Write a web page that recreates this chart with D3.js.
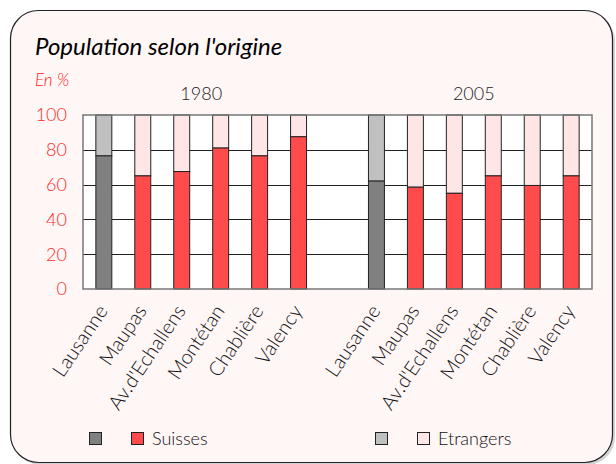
<!DOCTYPE html>
<html>
<head>
<meta charset="utf-8">
<script src="https://cdn.jsdelivr.net/npm/d3@7"></script>
<style>
  body { margin: 0; background: #fff; }
  text { font-family: Lato, "Open Sans", sans-serif; }
</style>
</head>
<body>
<script>
// data
let years = ["1980", "2005"];
let places = ["Lausanne", "Maupas", "Av.d'Echallens", "Montétan", "Chablière", "Valency"];
let suisses1980 = [76.5, 65, 67.5, 81, 76.5, 87.5];
let suisses2005 = [62, 58.5, 55, 65, 59.5, 65];
let yTicks = [0, 20, 40, 60, 80, 100];

// 13 slots: 6 places, an empty one, 6 places
let slots = [];
places.forEach((p, i) => slots.push({key: "a" + i, label: p, year: 0, suisses: suisses1980[i]}));
slots.push({key: "gap", label: "", year: -1, suisses: null});
places.forEach((p, i) => slots.push({key: "b" + i, label: p, year: 1, suisses: suisses2005[i]}));
let bars = slots.filter(d => d.suisses !== null);

let W = 616, H = 464;
let margin = {top: 115, right: 24, bottom: 175, left: 83},
    width = 592 - margin.left,
    height = 289 - margin.top;

let svg = d3.select("body").append("svg")
    .attr("width", W)
    .attr("height", H);

// panel with shadow
svg.append("rect")
    .attr("x", 13).attr("y", 13)
    .attr("width", 602).attr("height", 452)
    .attr("rx", 28)
    .attr("fill", "#d4d4d4");
svg.append("rect")
    .attr("x", 10.5).attr("y", 10.5)
    .attr("width", 602).attr("height", 452)
    .attr("rx", 28)
    .attr("fill", "#fff6f6")
    .attr("stroke", "#222")
    .attr("stroke-width", 1.2);

svg.append("text")
    .attr("x", 35).attr("y", 55)
    .style("font-size", "24px")
    .style("font-style", "italic")
    .attr("fill", "#000")
    .text("Population selon l'origine");

svg.append("text")
    .attr("x", 35).attr("y", 86)
    .style("font-size", "17px")
    .style("font-style", "italic")
    .style("font-weight", 300)
    .attr("fill", "#ff2020")
    .text("En %");

let x = d3.scaleBand()
    .domain(slots.map(d => d.key))
    .range([0, width])
    .paddingInner(0.59)
    .paddingOuter(0.33);

let y = d3.scaleLinear().domain([0, 100]).range([height, 0]);

let g = svg.append("g")
    .attr("transform", "translate(" + margin.left + "," + margin.top + ")");

// year headers
years.forEach(function (yr, k) {
    let first = x(slots.filter(d => d.year === k)[0].key);
    let last = x(slots.filter(d => d.year === k).slice(-1)[0].key) + x.bandwidth();
    g.append("text")
        .attr("x", (first + last) / 2)
        .attr("y", -15)
        .attr("text-anchor", "middle")
        .style("font-size", "18px")
        .style("font-weight", 300)
        .attr("fill", "#222")
        .text(yr);
});

// plot background
g.append("rect")
    .attr("width", width)
    .attr("height", height)
    .attr("fill", "#fff");

// grid lines
g.selectAll(".grid")
    .data(yTicks.filter(t => t > 0 && t < 100))
    .enter().append("line")
    .attr("x1", 0).attr("x2", width)
    .attr("y1", d => Math.round(y(d)) + 0.5)
    .attr("y2", d => Math.round(y(d)) + 0.5)
    .attr("stroke", "#222");

// y axis labels
g.selectAll(".ylab")
    .data(yTicks)
    .enter().append("text")
    .attr("x", -16)
    .attr("y", d => y(d))
    .attr("dy", "0.35em")
    .attr("text-anchor", "end")
    .style("font-size", "18px")
    .style("font-weight", 300)
    .attr("fill", "#ff2a2a")
    .text(d => d);

// stacked bars
let colSuisse = d => d.label === "Lausanne" ? "#808080" : "#ff4b4b";
let colEtr = d => d.label === "Lausanne" ? "#c0c0c0" : "#ffe6e6";

g.selectAll(".etr")
    .data(bars)
    .enter().append("rect")
    .attr("x", d => x(d.key))
    .attr("y", y(100))
    .attr("width", x.bandwidth())
    .attr("height", d => y(d.suisses) - y(100))
    .attr("fill", colEtr)
    .attr("stroke", "#222")
    .attr("stroke-width", 1);

g.selectAll(".sui")
    .data(bars)
    .enter().append("rect")
    .attr("x", d => x(d.key))
    .attr("y", d => y(d.suisses))
    .attr("width", x.bandwidth())
    .attr("height", d => y(0) - y(d.suisses))
    .attr("fill", colSuisse)
    .attr("stroke", "#222")
    .attr("stroke-width", 1);

// plot frame
g.append("rect")
    .attr("width", width)
    .attr("height", height)
    .attr("fill", "none")
    .attr("stroke", "#777")
    .attr("stroke-width", 1.5);

// x labels
g.selectAll(".xlab")
    .data(bars)
    .enter().append("text")
    .attr("transform", d => "translate(" + (x(d.key) + x.bandwidth() / 2 - 1) + "," + (height + 18) + ") rotate(-56)")
    .attr("text-anchor", "end")
    .attr("dy", "0.35em")
    .style("font-size", "20px")
    .style("font-weight", 300)
    .attr("fill", "#111")
    .text(d => d.label);

// legend
let legend = [
    {x: 89, fill: "#808080", label: ""},
    {x: 131, fill: "#ff4b4b", label: "Suisses"},
    {x: 375, fill: "#c0c0c0", label: ""},
    {x: 417, fill: "#ffe6e6", label: "Etrangers"}
];
let lg = svg.selectAll(".leg")
    .data(legend)
    .enter().append("g")
    .attr("transform", d => "translate(" + d.x + ",432)");
lg.append("rect")
    .attr("x", 0.5).attr("y", 0.5)
    .attr("width", 12).attr("height", 12)
    .attr("fill", d => d.fill)
    .attr("stroke", "#222");
lg.append("text")
    .attr("x", 21).attr("y", 13)
    .style("font-size", "18px")
    .style("font-weight", 300)
    .attr("fill", "#111")
    .text(d => d.label);
</script>
</body>
</html>
